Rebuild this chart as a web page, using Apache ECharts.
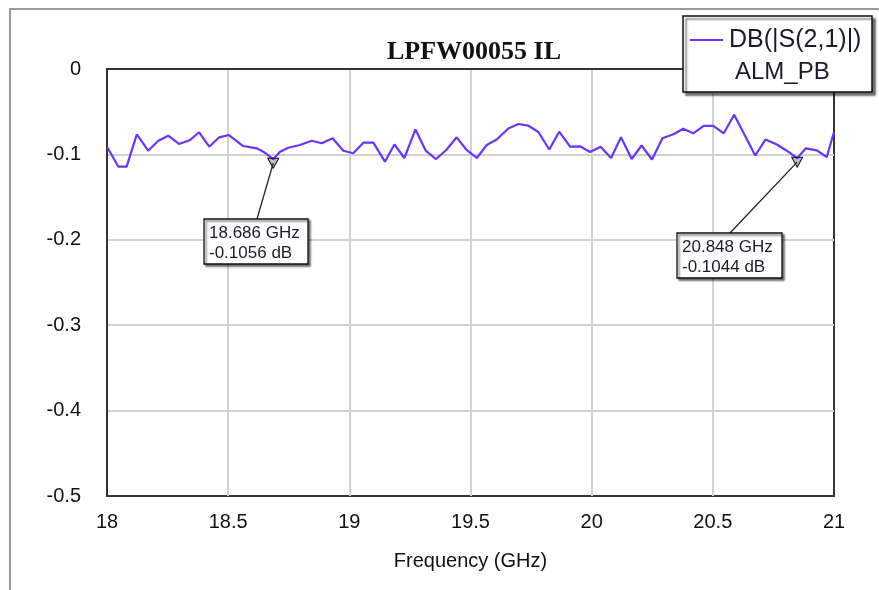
<!DOCTYPE html>
<html>
<head>
<meta charset="utf-8">
<script src="https://cdn.jsdelivr.net/npm/echarts@6/dist/echarts.min.js"></script>
<style>
  html, body { margin: 0; padding: 0; background: #fff; }
  #chart { width: 879px; height: 590px; }
</style>
</head>
<body>
<div id="chart"></div>
<script>
// S21 insertion loss
const freqGHz = [
  18.0, 18.047, 18.081, 18.123, 18.170, 18.212, 18.253, 18.297, 18.343, 18.380,
  18.422, 18.463, 18.503, 18.562, 18.618, 18.645, 18.686, 18.714, 18.748, 18.796,
  18.845, 18.886, 18.931, 18.975, 19.016, 19.058, 19.099, 19.147, 19.186, 19.227,
  19.273, 19.316, 19.358, 19.400, 19.443, 19.484, 19.526, 19.567, 19.608, 19.656,
  19.697, 19.739, 19.780, 19.825, 19.866, 19.911, 19.952, 19.993, 20.037, 20.080,
  20.121, 20.165, 20.206, 20.249, 20.292, 20.337, 20.378, 20.419, 20.462, 20.502,
  20.545, 20.588, 20.675, 20.717, 20.764, 20.805, 20.848, 20.884, 20.929, 20.970,
  21.0
];
const s21dB = [
  -0.091, -0.1144, -0.1144, -0.0765, -0.0957, -0.0840, -0.0781, -0.0878, -0.0831, -0.0741,
  -0.0910, -0.0800, -0.0773, -0.0902, -0.0929, -0.0968, -0.1056, -0.0968, -0.0922, -0.0890,
  -0.0840, -0.0870, -0.0811, -0.0957, -0.0987, -0.0863, -0.0863, -0.1085, -0.0884, -0.1042,
  -0.0708, -0.0960, -0.1054, -0.0948, -0.0800, -0.0948, -0.1042, -0.0890, -0.0826, -0.0697,
  -0.0644, -0.0664, -0.0738, -0.0943, -0.0734, -0.0910, -0.0905, -0.0972, -0.0910, -0.1042,
  -0.0800, -0.1054, -0.0896, -0.1060, -0.0811, -0.0765, -0.0699, -0.0753, -0.0667, -0.0667,
  -0.0753, -0.0535, -0.1013, -0.0826, -0.0884, -0.0957, -0.1044, -0.0929, -0.0952, -0.1030,
  -0.0738
];
const markerFreq = [18.686, 20.848];
const markerDB = [-0.1056, -0.1044];

const traceName = "DB(|S(2,1)|)";
const docName = "ALM_PB";
const traceColor = "#6a35ff";
const sans = "'Liberation Sans', Arial, sans-serif";

const chart = echarts.init(document.getElementById("chart"));

const options = {
  animation: false,
  title: {
    text: "LPFW00055 IL",
    left: 469,
    top: 34,
    textAlign: "center",
    textStyle: { fontFamily: "'Liberation Serif', 'Times New Roman', serif", fontWeight: "bold", fontSize: 26, color: "#111" },
  },
  grid: {
    left: 107, right: 45, top: 69, bottom: 94,
    show: true, borderColor: "#333", borderWidth: 2,
  },
  xAxis: {
    type: "value",
    min: 18, max: 21, interval: 0.5,
    name: "Frequency (GHz)",
    nameLocation: "middle",
    nameGap: 55,
    nameTextStyle: { fontFamily: sans, fontSize: 20, color: "#111" },
    axisLine: { lineStyle: { color: "#333", width: 2 } },
    axisTick: { show: false },
    axisLabel: { margin: 16, fontFamily: sans, fontSize: 20, color: "#111" },
    splitLine: { showMinLine: false, showMaxLine: false, lineStyle: { color: "#d2d2d2", width: 2 } },
  },
  yAxis: {
    type: "value",
    min: -0.5, max: 0, interval: 0.1,
    axisLine: { show: true, lineStyle: { color: "#333", width: 2 } },
    axisTick: { show: false },
    axisLabel: {
      margin: 26, fontFamily: sans, fontSize: 20, color: "#111",
      formatter: (v) => String(+v.toFixed(1)),
    },
    splitLine: { showMinLine: false, showMaxLine: false, lineStyle: { color: "#d2d2d2", width: 2 } },
  },
  series: [
    {
      name: traceName,
      type: "line",
      data: freqGHz.map((f, i) => [f, s21dB[i]]),
      showSymbol: false,
      lineStyle: { color: traceColor, width: 2.2 },
      markPoint: {
        symbol: "triangle",
        symbolRotate: 180,
        symbolSize: [11, 10],
        symbolOffset: [0, 4],
        itemStyle: { color: "rgba(70,50,130,0.35)", borderColor: "#111", borderWidth: 1 },
        label: { show: false },
        data: markerFreq.map((f, i) => ({ coord: [f, markerDB[i]] })),
      },
    },
  ],
};

chart.setOption(options);

// marker readouts and legend box
const boxes = [
  { x: 204, y: 219, w: 104, h: 45, lx: 257, ly: 219 },
  { x: 677, y: 233, w: 105, h: 45, lx: 730, ly: 233 },
];
const graphics = [
  // outer frame
  { type: "polyline", z: 1, shape: { points: [[10, 600], [10, 9], [890, 9]] }, style: { stroke: "#9a9a9a", lineWidth: 2, fill: null } },
];
markerFreq.forEach((f, i) => {
  const p = chart.convertToPixel({ gridIndex: 0 }, [f, markerDB[i]]);
  const b = boxes[i];
  graphics.push({ type: "line", z: 100, shape: { x1: p[0], y1: p[1] + 4, x2: b.lx, y2: b.ly }, style: { stroke: "#222", lineWidth: 1.3 } });
  graphics.push({
    type: "rect", z: 101, shape: { x: b.x, y: b.y, width: b.w, height: b.h },
    style: { fill: "#fff", stroke: "#111", lineWidth: 1.3, shadowBlur: 2, shadowOffsetX: 2, shadowOffsetY: 2, shadowColor: "rgba(0,0,0,0.55)" },
  });
  graphics.push({
    type: "text", z: 102, x: b.x + 5, y: b.y + 4,
    style: {
      text: f.toFixed(3) + " GHz\n" + markerDB[i].toFixed(4) + " dB",
      font: "17px " + sans, fill: "#1c1c2c", lineHeight: 20,
      textAlign: "left", textVerticalAlign: "top",
    },
  });
});
graphics.push({
  type: "rect", z: 101, shape: { x: 683, y: 16, width: 189, height: 76 },
  style: { fill: "#fff", stroke: "#111", lineWidth: 1.5, shadowBlur: 2, shadowOffsetX: 3, shadowOffsetY: 3, shadowColor: "rgba(0,0,0,0.55)" },
});
graphics.push({ type: "line", z: 102, shape: { x1: 690, y1: 40, x2: 723, y2: 40 }, style: { stroke: traceColor, lineWidth: 2 } });
graphics.push({
  type: "text", z: 102, x: 729, y: 40,
  style: { text: traceName, font: "25px " + sans, fill: "#1c1c2c", textAlign: "left", textVerticalAlign: "middle" },
});
graphics.push({
  type: "text", z: 102, x: 735, y: 72,
  style: { text: docName, font: "24px " + sans, fill: "#1c1c2c", textAlign: "left", textVerticalAlign: "middle" },
});
chart.setOption({ graphic: graphics });

window.addEventListener("resize", () => chart.resize());
</script>
</body>
</html>
